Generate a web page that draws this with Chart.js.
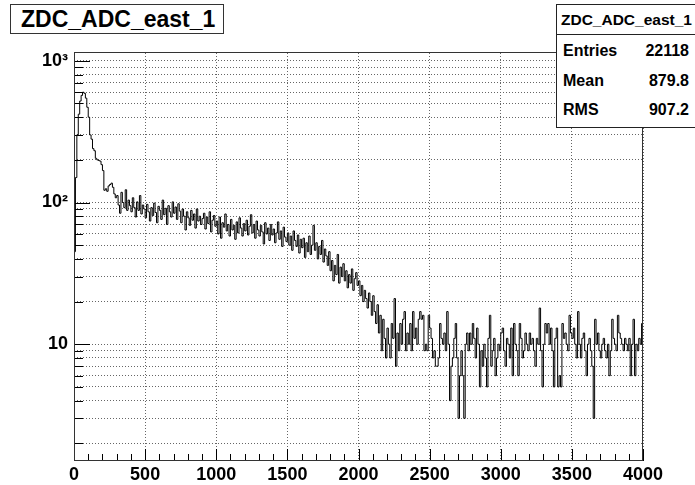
<!DOCTYPE html>
<html>
<head>
<meta charset="utf-8">
<script src="https://cdn.jsdelivr.net/npm/chart.js@4.4.1/dist/chart.umd.min.js"></script>
<style>
  html, body { margin: 0; padding: 0; background: #fff; }
  #wrap { position: relative; width: 695px; height: 485px; overflow: hidden; font-family: "Liberation Sans", Arial, Helvetica, sans-serif; }
  #c { position: absolute; left: 0; top: 0; }
  #title { position: absolute; left: 10px; top: 4px; width: 214px; height: 30px; box-sizing: border-box; border: 1px solid #333; background: #fff;
           font-weight: bold; font-size: 23px; line-height: 28px; padding-left: 10px; color: #000; white-space: nowrap; }
  #stats { position: absolute; left: 556px; top: 4px; width: 150px; height: 124px; box-sizing: border-box; border: 1px solid #222; background: #fff; color: #000; }
  #stats .hdr { position: absolute; left: 0; top: 0; width: 100%; height: 30px; border-bottom: 1px solid #222; box-sizing: border-box;
                font-weight: bold; font-size: 15.5px; line-height: 29px; padding-left: 4px; white-space: nowrap; }
  #stats .lab { position: absolute; left: 6px; font-weight: bold; font-size: 16px; white-space: nowrap; }
  #stats .val { position: absolute; right: 16px; font-weight: bold; font-size: 16px; white-space: nowrap; text-align: right; }
</style>
</head>
<body>
<div id="wrap">
  <canvas id="c" width="695" height="485"></canvas>
  <div id="title"></div>
  <div id="stats"></div>
</div>
<script>
// ---------------- data ----------------
const histTitle = 'ZDC_ADC_east_1';
const xMin = 0;
const xMax = 4000;
const binWidth = 10;
// bin contents, 400 bins of width 10 (one row = 10 bins = 100 ADC)
const counts = [
  45,150,300,420,520,570,600,590,545,470,
  400,300,280,240,232,205,200,198,196,185,
  168,122,125,120,131,134,137,128,115,108,
  112,96,84,118,100,92,123,88,104,95,
  86,108,92,79,101,88,112,83,96,90,
  78,97,86,74,92,81,99,85,72,94,
  88,76,104,82,91,70,95,86,79,101,
  84,93,76,98,87,72,90,80,64,86,
  78,69,88,75,83,66,90,74,80,70,
  77,84,65,79,71,86,62,75,81,68,
  74,60,79,56,72,67,83,63,70,58,
  76,64,69,55,73,61,78,66,58,71,
  63,75,59,68,82,61,70,56,74,64,
  58,69,62,51,72,60,66,54,70,59,
  65,52,61,73,55,63,49,67,57,53,
  61,50,58,46,63,54,49,59,44,55,
  48,56,41,52,45,58,43,50,69,46,
  52,40,49,43,54,38,47,42,36,45,
  33,39,28,36,31,43,27,35,30,37,
  28,33,25,31,27,34,24,29,32,26,
  28,22,26,20,24,21,18,23,20,16,
  22,17,14,19,12,16,9,15,11,8,
  13,10,8,14,11,21,7,12,9,14,
  10,15,17,9,12,10,14,9,17,11,
  13,10,15,17,15,16,9,10,9,16,
  13,11,8,9,7,7,8,14,11,10,
  12,9,17,10,4,7,8,11,14,8,
  3,6,9,6,3,10,12,9,12,10,
  14,11,8,13,10,5,9,7,10,8,
  5,11,16,7,9,11,6,8,10,9,
  12,13,9,7,11,10,8,13,6,14,
  10,9,6,14,11,8,9,12,10,9,
  12,10,11,9,7,11,10,18,9,5,
  10,14,12,14,10,13,9,5,11,13,
  5,6,5,14,11,12,10,9,16,12,
  11,13,10,8,17,10,8,11,12,9,
  6,10,11,9,7,3,15,10,12,9,
  8,10,11,9,8,10,6,9,15,11,
  10,9,16,12,11,10,9,11,10,9,
  11,6,10,15,6,10,9,11,10,14
];
const yMin = 1.5;
const yMax = 1135;
const xMajorTicks = [0, 500, 1000, 1500, 2000, 2500, 3000, 3500, 4000];
const xMinorStep = 100;
const yDecades = [1, 10, 100];
const yMultipliers = [2, 3, 4, 5, 6, 7, 8, 9, 10];
const yTickLabels = { 10: '10', 100: '10\u00B2', 1000: '10\u00B3' };
const statsLabels = ['Entries', 'Mean', 'RMS'];
const statsValues = ['22118', '879.8', '907.2'];

// ---------------- build ----------------
const FONT = '"Liberation Sans", Arial, Helvetica, sans-serif';
const yGridValues = [];
yDecades.forEach(d => yMultipliers.forEach(m => yGridValues.push(d * m)));

const points = counts.map((c, i) => ({ x: xMin + i * binWidth, y: c }));
points.push({ x: xMax, y: counts[counts.length - 1] });

document.getElementById('title').textContent = histTitle;
const st = document.getElementById('stats');
const hdr = document.createElement('div'); hdr.className = 'hdr'; hdr.textContent = histTitle; st.appendChild(hdr);
const rowTops = [37, 67, 96];
statsLabels.forEach((l, i) => {
  const a = document.createElement('div'); a.className = 'lab'; a.textContent = l; a.style.top = rowTops[i] + 'px'; st.appendChild(a);
  const b = document.createElement('div'); b.className = 'val'; b.textContent = statsValues[i]; b.style.top = rowTops[i] + 'px'; st.appendChild(b);
});

const framePlugin = {
  id: 'rootFrame',
  afterDatasetsDraw(chart) {
    const { ctx, chartArea: a, scales } = chart;
    ctx.save();
    ctx.strokeStyle = '#000';
    ctx.lineWidth = 1;
    ctx.beginPath();
    yGridValues.forEach(v => {
      const py = Math.round(scales.y.getPixelForValue(v)) + 0.5;
      const major = (v === 10 || v === 100 || v === 1000);
      const len = major ? 16 : 9;
      ctx.moveTo(a.left, py); ctx.lineTo(a.left + len, py);
    });
    for (let v = xMin; v <= xMax; v += xMinorStep) {
      const px = Math.round(scales.x.getPixelForValue(v)) + 0.5;
      const len = (v % 500 === 0) ? 12 : 7;
      ctx.moveTo(px, a.bottom); ctx.lineTo(px, a.bottom - len);
    }
    ctx.stroke();
    ctx.strokeStyle = '#333';
    ctx.strokeRect(a.left + 0.5, a.top - 0.5, a.right - a.left - 1, a.bottom - a.top);
    ctx.restore();
  }
};

new Chart(document.getElementById('c'), {
  type: 'line',
  data: {
    datasets: [{
      data: points,
      stepped: 'before',
      borderColor: '#000',
      borderWidth: 1,
      pointRadius: 0,
      fill: false,
      tension: 0
    }]
  },
  options: {
    responsive: false,
    animation: false,
    devicePixelRatio: 1,
    events: [],
    layout: { padding: { left: 0, top: 53, right: 52, bottom: 0 } },
    plugins: { legend: { display: false }, tooltip: { enabled: false }, title: { display: false } },
    scales: {
      x: {
        type: 'linear', min: xMin, max: xMax,
        afterBuildTicks: s => { s.ticks = xMajorTicks.map(v => ({ value: v })); },
        afterFit: s => { s.height = 24; },
        grid: { display: true, drawTicks: false, color: '#666', lineWidth: 1 },
        border: { display: false, dash: [1, 2] },
        ticks: { autoSkip: false, maxRotation: 0, minRotation: 0, padding: 3, color: '#000',
                 font: { family: FONT, size: 18, weight: 'bold' }, callback: v => String(v) }
      },
      y: {
        type: 'logarithmic', min: yMin, max: yMax,
        afterBuildTicks: s => { s.ticks = yGridValues.map(v => ({ value: v })); },
        afterFit: s => { s.width = 74; },
        grid: { display: true, drawTicks: false, color: '#666', lineWidth: 1 },
        border: { display: false, dash: [1, 2] },
        ticks: { autoSkip: false, padding: 6, color: '#000',
                 font: { family: FONT, size: 18, weight: 'bold' },
                 callback: v => yTickLabels[v] || '' }
      }
    }
  },
  plugins: [framePlugin]
});
</script>
</body>
</html>
